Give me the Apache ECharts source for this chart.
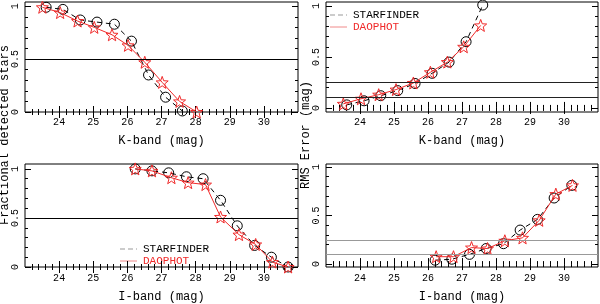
<!DOCTYPE html>
<html><head><meta charset="utf-8">
<script src="https://cdn.jsdelivr.net/npm/echarts@6/dist/echarts.min.js"></script>
<style>html,body{margin:0;padding:0;background:#fff}#c{width:600px;height:304px}</style>
</head><body><div id="c"></div>
<script>
// ---- data ----
const xTickLabels = [24, 25, 26, 27, 28, 29, 30];
const yTickLabels = [0, 0.5, 1];

const xK_SF_frac = [23.62, 24.11, 24.62, 25.11, 25.62, 26.12, 26.62, 27.12, 27.61];
const yK_SF_frac = [0.99, 0.97, 0.87, 0.85, 0.83, 0.67, 0.35, 0.14, 0.01];
const xK_DAO_frac = [23.51, 24.03, 24.54, 25.03, 25.55, 26.02, 26.51, 27.02, 27.53, 28.03];
const yK_DAO_frac = [0.99, 0.94, 0.86, 0.80, 0.73, 0.63, 0.47, 0.28, 0.10, 0.0];

const xK_SF_rms = [23.61, 24.12, 24.61, 25.11, 25.62, 26.12, 26.62, 27.12, 27.61];
const yK_SF_rms = [0.03, 0.07, 0.12, 0.17, 0.24, 0.34, 0.45, 0.65, 1.01];
const xK_DAO_rms = [23.51, 24.03, 24.55, 25.06, 25.57, 26.07, 26.57, 27.05, 27.55];
const yK_DAO_rms = [0.04, 0.09, 0.13, 0.18, 0.245, 0.35, 0.45, 0.60, 0.81];

const xI_SF_frac = [26.23, 26.72, 27.21, 27.73, 28.22, 28.73, 29.22, 29.73, 30.22, 30.71];
const yI_SF_frac = [1.0, 0.98, 0.96, 0.92, 0.90, 0.68, 0.42, 0.22, 0.10, 0.0];
const xI_DAO_frac = [26.23, 26.72, 27.29, 27.78, 28.29, 28.73, 29.27, 29.76, 30.25, 30.71];
const yI_DAO_frac = [1.0, 0.98, 0.91, 0.86, 0.84, 0.51, 0.33, 0.23, 0.05, 0.0];

const xI_SF_rms = [26.21, 26.70, 27.22, 27.71, 28.22, 28.71, 29.22, 29.71, 30.23];
const yI_SF_rms = [0.04, 0.05, 0.10, 0.16, 0.21, 0.35, 0.46, 0.68, 0.81];
const xI_DAO_rms = [26.24, 26.75, 27.28, 27.75, 28.26, 28.78, 29.27, 29.76, 30.25];
const yI_DAO_rms = [0.076, 0.076, 0.17, 0.16, 0.24, 0.27, 0.45, 0.72, 0.81];

const fracRefLines = [0.5];
const rmsRefLines = [0.1, 0.25];

const seriesNames = ['STARFINDER', 'DAOPHOT'];
const xTitles = ['K-band (mag)', 'I-band (mag)'];
const yTitles = ['Fractional detected stars', 'RMS Error (mag)'];

// ---- helpers ----
const FONT = 'Liberation Mono';
const RED = '#f02a2a';
function zip(xs, ys) { return xs.map((x, i) => [x, ys[i]]); }
function starPath() {
  let p = [];
  for (let i = 0; i < 10; i++) {
    const r = i % 2 === 0 ? 50 : 21;
    const a = -Math.PI / 2 + i * Math.PI / 5;
    p.push((i ? 'L' : 'M') + (50 + r * Math.cos(a)).toFixed(1) + ' ' + (50 + r * Math.sin(a)).toFixed(1));
  }
  return 'path://' + p.join(' ') + ' Z';
}
const STAR = starPath();

const X_MIN = 23, X_MAX = 31;
const xMajor = xTickLabels.slice();
const xMinor = [];
for (let k = 1; k < 40; k++) { const v = +(X_MIN + k * 0.2).toFixed(1); if (Math.abs(v - Math.round(v)) > 1e-6) xMinor.push(v); }
const yMajor = yTickLabels.slice();
const yMinor = [];
for (let k = 1; k < 10; k++) { const v = +(k * 0.1).toFixed(1); if (Math.abs(v - 0.5) > 1e-6) yMinor.push(v); }

const grids = [
  { left: 25, top: 2, width: 273, height: 110, ymin: 0, ymax: 1.04 },
  { left: 326, top: 2, width: 272, height: 110, ymin: -0.04, ymax: 1.04 },
  { left: 25, top: 164, width: 273, height: 110, ymin: 0, ymax: 1.05 },
  { left: 326, top: 164, width: 272, height: 108, ymin: -0.03, ymax: 1.03 }
];

const xAxes = [], yAxes = [], series = [];
const mainX = [], mainY = [];
const tickStyle = { color: '#000', width: 1 };
grids.forEach((g, gi) => {
  const xt = gi < 2 ? xTitles[0] : xTitles[1];
  const base = { gridIndex: gi, type: 'value', min: X_MIN, max: X_MAX, splitLine: { show: false }, axisLine: { show: false } };
  mainX.push(xAxes.length);
  xAxes.push(Object.assign({}, base, {
    position: 'bottom', name: xt, nameLocation: 'middle', nameGap: gi < 2 ? 23 : 24,
    nameTextStyle: { fontFamily: FONT, fontSize: 12, color: '#000' },
    axisTick: { inside: true, length: 6, customValues: xMajor, lineStyle: tickStyle },
    axisLabel: { customValues: xTickLabels, fontFamily: FONT, fontSize: 10, color: '#000', margin: gi < 2 ? 5 : 6 }
  }));
  xAxes.push(Object.assign({}, base, { position: 'bottom', axisTick: { inside: true, length: 3, customValues: xMinor, lineStyle: tickStyle }, axisLabel: { show: false } }));
  xAxes.push(Object.assign({}, base, { position: 'top', axisTick: { inside: true, length: 6, customValues: xMajor, lineStyle: tickStyle }, axisLabel: { show: false } }));
  xAxes.push(Object.assign({}, base, { position: 'top', axisTick: { inside: true, length: 3, customValues: xMinor, lineStyle: tickStyle }, axisLabel: { show: false } }));

  const ybase = { gridIndex: gi, type: 'value', min: g.ymin, max: g.ymax, splitLine: { show: false }, axisLine: { show: false } };
  mainY.push(yAxes.length);
  yAxes.push(Object.assign({}, ybase, {
    position: 'left',
    axisTick: { inside: true, length: 6, customValues: yMajor, lineStyle: tickStyle },
    axisLabel: { customValues: yTickLabels, rotate: 90, fontFamily: FONT, fontSize: 10, color: '#000', margin: 5, formatter: v => String(v) }
  }));
  yAxes.push(Object.assign({}, ybase, { position: 'left', axisTick: { inside: true, length: 3, customValues: yMinor, lineStyle: tickStyle }, axisLabel: { show: false } }));
  yAxes.push(Object.assign({}, ybase, { position: 'right', axisTick: { inside: true, length: 6, customValues: yMajor, lineStyle: tickStyle }, axisLabel: { show: false } }));
  yAxes.push(Object.assign({}, ybase, { position: 'right', axisTick: { inside: true, length: 3, customValues: yMinor, lineStyle: tickStyle }, axisLabel: { show: false } }));
});

const panelData = [
  [zip(xK_SF_frac, yK_SF_frac), zip(xK_DAO_frac, yK_DAO_frac), fracRefLines, '#000'],
  [zip(xK_SF_rms, yK_SF_rms), zip(xK_DAO_rms, yK_DAO_rms), rmsRefLines, '#222'],
  [zip(xI_SF_frac, yI_SF_frac), zip(xI_DAO_frac, yI_DAO_frac), fracRefLines, '#000'],
  [zip(xI_SF_rms, yI_SF_rms), zip(xI_DAO_rms, yI_DAO_rms), rmsRefLines, '#999']
];
panelData.forEach((pd, gi) => {
  series.push({
    type: 'line', name: seriesNames[0] + gi, xAxisIndex: mainX[gi], yAxisIndex: mainY[gi],
    data: pd[0], symbol: 'circle', symbolSize: 10, showAllSymbol: true,
    lineStyle: { color: '#000', width: 1, type: [5, 4] },
    itemStyle: { color: 'rgba(255,255,255,0)', borderColor: '#000', borderWidth: 1 },
    z: 3, animation: false,
    markLine: {
      silent: true, symbol: 'none', label: { show: false },
      lineStyle: { color: pd[3], width: 1, type: 'solid' },
      data: pd[2].map(v => ({ yAxis: v }))
    }
  });
  series.push({
    type: 'line', name: seriesNames[1] + gi, xAxisIndex: mainX[gi], yAxisIndex: mainY[gi],
    data: pd[1], symbol: STAR, symbolSize: 12, showAllSymbol: true,
    lineStyle: { color: RED, width: 1 },
    itemStyle: { color: 'rgba(255,255,255,0)', borderColor: RED, borderWidth: 1 },
    z: 4, animation: false
  });
});

function legendGraphic(x, y) {
  return [
    { type: 'line', shape: { x1: x, y1: y, x2: x + 17, y2: y }, style: { stroke: '#999', lineWidth: 1, lineDash: [5, 3] } },
    { type: 'text', x: x + 23, y: y, style: { text: seriesNames[0], fill: '#000', font: '11px "' + FONT + '"', verticalAlign: 'middle' } },
    { type: 'line', shape: { x1: x, y1: y + 12, x2: x + 17, y2: y + 12 }, style: { stroke: '#f08a8a', lineWidth: 1 } },
    { type: 'text', x: x + 23, y: y + 12, style: { text: seriesNames[1], fill: RED, font: '11px "' + FONT + '"', verticalAlign: 'middle' } }
  ];
}

const graphic = [].concat(
  legendGraphic(330, 15),
  legendGraphic(120, 249),
  [
    { type: 'text', x: 5, y: 135, rotation: Math.PI / 2, style: { text: yTitles[0], fill: '#000', font: '12px "' + FONT + '"', align: 'center', verticalAlign: 'middle' } },
    { type: 'text', x: 306, y: 135, rotation: Math.PI / 2, style: { text: yTitles[1], fill: '#000', font: '12px "' + FONT + '"', align: 'center', verticalAlign: 'middle' } }
  ]
);

const chart = echarts.init(document.getElementById('c'), null, { renderer: 'canvas' });
chart.setOption({
  animation: false,
  backgroundColor: '#fff',
  grid: grids.map(g => ({ left: g.left, top: g.top, width: g.width, height: g.height, show: true, borderColor: '#000', borderWidth: 1, backgroundColor: 'transparent', containLabel: false })),
  xAxis: xAxes,
  yAxis: yAxes,
  series: series,
  graphic: graphic
});
</script></body></html>
